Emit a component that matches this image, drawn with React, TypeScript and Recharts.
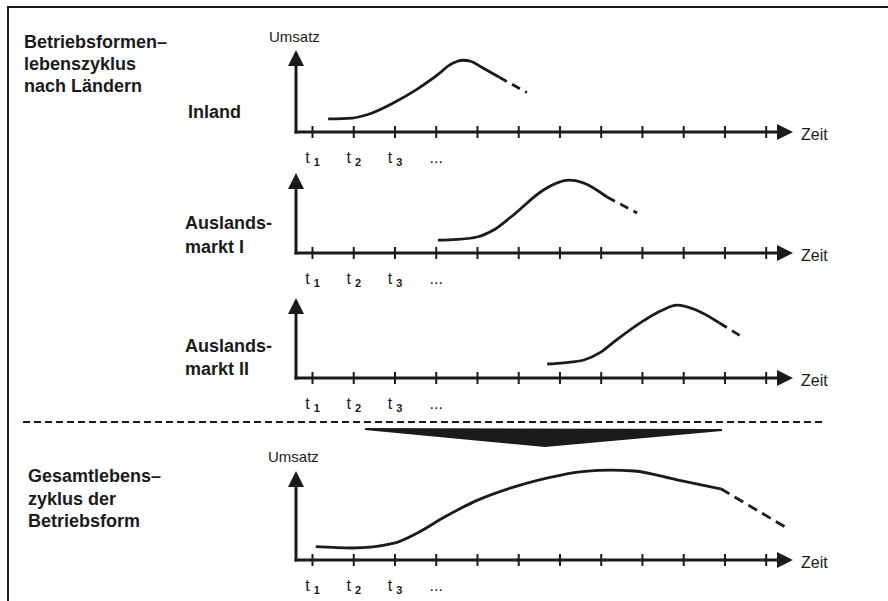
import React from 'react';
import { LineChart, Line, XAxis, YAxis, ReferenceLine } from 'recharts';

const W = 888;
const H = 601;
const FONT = '"Liberation Sans", Arial, sans-serif';
const INK = '#1b1b1b';

// time axis: tick marks t1 ... t12, only the first ones are labelled
const timeTicks = [1, 2, 3, 4, 5, 6, 7, 8, 9, 10, 11, 12];
const tickLabels = ['t', 't', 't', '...'];
const tickSubs = ['1', '2', '3', ''];
const timeDomain = [0.6, 12.65];

// Umsatz scale: 100 = tip of the vertical arrow
const umsatzDomain = [0, 110];
const arrowTop = 100;

// Inland
const inlandSolid = [
  { t: 1.38, v: 16 },
  { t: 1.96, v: 17 },
  { t: 2.32, v: 21 },
  { t: 2.98, v: 36 },
  { t: 3.53, v: 52 },
  { t: 4.09, v: 72 },
  { t: 4.3, v: 81 },
  { t: 4.5, v: 86 },
  { t: 4.65, v: 87.5 },
  { t: 4.85, v: 86 },
  { t: 5.1, v: 79 },
  { t: 5.52, v: 67 },
];
const inlandDashed = [
  { t: 5.52, v: 67 },
  { t: 6.2, v: 48 },
];

// Auslandsmarkt I
const markt1Solid = [
  { t: 4.04, v: 16 },
  { t: 4.5, v: 17 },
  { t: 4.99, v: 20 },
  { t: 5.4, v: 29 },
  { t: 5.81, v: 45 },
  { t: 6.61, v: 79 },
  { t: 6.95, v: 88 },
  { t: 7.22, v: 91 },
  { t: 7.55, v: 88 },
  { t: 8.14, v: 70 },
];
const markt1Dashed = [
  { t: 8.14, v: 70 },
  { t: 8.87, v: 50 },
];

// Auslandsmarkt II
const markt2Solid = [
  { t: 6.69, v: 17.5 },
  { t: 7.1, v: 19 },
  { t: 7.58, v: 22.5 },
  { t: 7.98, v: 32 },
  { t: 8.38, v: 48 },
  { t: 9.04, v: 72 },
  { t: 9.45, v: 84 },
  { t: 9.84, v: 91 },
  { t: 10.3, v: 85 },
  { t: 10.86, v: 69 },
];
const markt2Dashed = [
  { t: 10.86, v: 69 },
  { t: 11.46, v: 50 },
];

// Gesamtlebenszyklus
const gesamtSolid = [
  { t: 1.08, v: 15 },
  { t: 1.96, v: 13.5 },
  { t: 2.98, v: 19 },
  { t: 3.53, v: 30 },
  { t: 4.19, v: 48 },
  { t: 4.99, v: 67 },
  { t: 5.81, v: 81 },
  { t: 7.03, v: 95.5 },
  { t: 7.6, v: 99.5 },
  { t: 8.24, v: 101 },
  { t: 8.8, v: 100 },
  { t: 9.84, v: 90 },
  { t: 10.9, v: 80 },
];
const gesamtDashed = [
  { t: 10.9, v: 80 },
  { t: 12.5, v: 36 },
];

const titleTop = ['Betriebsformen–', 'lebenszyklus', 'nach Ländern'];
const titleBottom = ['Gesamtlebens–', 'zyklus der', 'Betriebsform'];

// layout of the four small diagrams (page pixels)
const panels = [
  { tipY: 50, axisY: 132, solid: inlandSolid, dashed: inlandDashed, dash: '9 6' },
  { tipY: 173, axisY: 253, solid: markt1Solid, dashed: markt1Dashed, dash: '9 6' },
  { tipY: 298, axisY: 378, solid: markt2Solid, dashed: markt2Dashed, dash: '9 6' },
  { tipY: 471, axisY: 560, solid: gesamtSolid, dashed: gesamtDashed, dash: '10 6' },
];
const plotLeft = 296;
const plotRight = 793;
const xAxisHeight = 40;

const TimeTick = (props: any) => {
  const { x, y, payload } = props;
  const i = timeTicks.indexOf(payload.value);
  return (
    <g>
      <line x1={x} x2={x} y1={y - 6} y2={y + 6} stroke={INK} strokeWidth={2} />
      {i >= 0 && i < tickLabels.length && (
        <text x={x} y={y + 31} textAnchor="middle" fontFamily={FONT} fontSize={16} fill={INK}>
          {tickLabels[i]}
          {tickSubs[i] && (
            <tspan dx={4} dy={3} fontSize={11} fontWeight="bold">
              {tickSubs[i]}
            </tspan>
          )}
        </text>
      )}
    </g>
  );
};

// axis line with a filled arrow head at its end point
const arrowShape = (props: any) => {
  const { x1, y1, x2, y2 } = props;
  const dx = x2 - x1;
  const dy = y2 - y1;
  const len = Math.hypot(dx, dy) || 1;
  const ux = dx / len;
  const uy = dy / len;
  const headLen = 16;
  const half = 8;
  const bx = x2 - ux * headLen;
  const by = y2 - uy * headLen;
  return (
    <g>
      <line x1={x1} y1={y1} x2={bx + ux} y2={by + uy} stroke={INK} strokeWidth={3} strokeLinecap="square" />
      <polygon
        points={`${x2},${y2} ${bx - uy * half},${by + ux * half} ${bx + uy * half},${by - ux * half}`}
        fill={INK}
      />
    </g>
  );
};

function Panel({ tipY, axisY, solid, dashed, dash }: any) {
  const pxPerUnit = (axisY - tipY) / arrowTop;
  const plotTop = axisY - pxPerUnit * umsatzDomain[1];
  return (
    <div style={{ position: 'absolute', left: 0, top: 0 }}>
      <LineChart
        width={W}
        height={H}
        margin={{ top: plotTop, right: W - plotRight, bottom: H - axisY - xAxisHeight, left: plotLeft }}
      >
        <XAxis
          type="number"
          dataKey="t"
          domain={timeDomain}
          ticks={timeTicks}
          interval={0}
          axisLine={false}
          tickLine={false}
          tickSize={0}
          tickMargin={0}
          height={xAxisHeight}
          tick={TimeTick}
        />
        <YAxis type="number" dataKey="v" domain={umsatzDomain} hide />
        <ReferenceLine
          segment={[{ x: timeDomain[0], y: 0 }, { x: timeDomain[0], y: arrowTop }]}
          ifOverflow="visible"
          shape={arrowShape}
        />
        <ReferenceLine
          segment={[{ x: timeDomain[0], y: 0 }, { x: timeDomain[1], y: 0 }]}
          ifOverflow="visible"
          shape={arrowShape}
        />
        <Line
          data={solid}
          dataKey="v"
          type="monotone"
          stroke={INK}
          strokeWidth={2.8}
          dot={false}
          activeDot={false}
          isAnimationActive={false}
        />
        <Line
          data={dashed}
          dataKey="v"
          type="linear"
          stroke={INK}
          strokeWidth={2.8}
          strokeDasharray={dash}
          dot={false}
          activeDot={false}
          isAnimationActive={false}
        />
      </LineChart>
    </div>
  );
}

export default function App() {
  const bold = { fontFamily: FONT, fontSize: 18, fontWeight: 'bold' as const, fill: INK };
  const small = { fontFamily: FONT, fontSize: 15, fill: INK };
  return (
    <div style={{ position: 'absolute', left: 0, top: 0, width: W, height: H, background: '#fff', overflow: 'hidden' }}>
      <svg width={W} height={H} style={{ position: 'absolute', left: 0, top: 0 }}>
        {/* frame */}
        <line x1={8} y1={7} x2={W} y2={7} stroke={INK} strokeWidth={2} />
        <line x1={8} y1={6} x2={8} y2={H} stroke={INK} strokeWidth={2} />

        {titleTop.map((s, i) => (
          <text key={s} x={24} y={48 + i * 22} {...bold}>{s}</text>
        ))}
        <text x={188} y={118} {...bold}>Inland</text>
        <text x={185} y={229} {...bold}>Auslands-</text>
        <text x={185} y={253} {...bold}>markt I</text>
        <text x={185} y={352} {...bold}>Auslands-</text>
        <text x={185} y={375} {...bold}>markt II</text>
        {titleBottom.map((s, i) => (
          <text key={s} x={28} y={482 + i * 22.5} {...bold}>{s}</text>
        ))}

        <text x={269} y={42} {...small}>Umsatz</text>
        <text x={268} y={462} {...small}>Umsatz</text>
        {panels.map((p) => (
          <text key={p.axisY} x={801} y={p.axisY + 8} fontFamily={FONT} fontSize={16} fill={INK}>Zeit</text>
        ))}

        {/* separator and merging arrow */}
        <line x1={23} y1={422} x2={822} y2={422} stroke={INK} strokeWidth={2} strokeDasharray="7 4" />
        <polygon points="365,428 722,429 722,431 545,447 365,430" fill={INK} />
      </svg>
      {panels.map((p) => (
        <Panel key={p.axisY} {...p} />
      ))}
    </div>
  );
}
